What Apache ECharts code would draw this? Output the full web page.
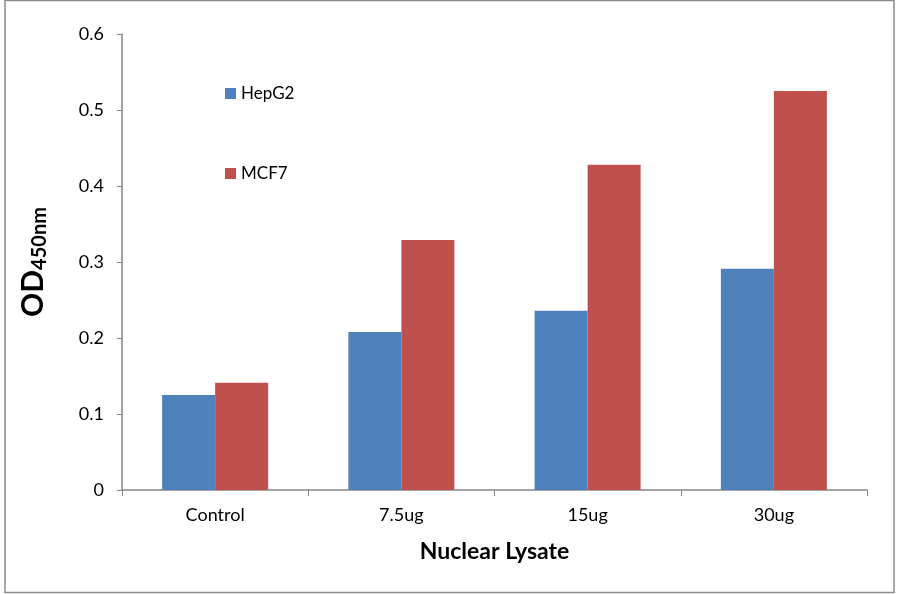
<!DOCTYPE html>
<html>
<head>
<meta charset="utf-8">
<script src="https://cdn.jsdelivr.net/npm/echarts@6/dist/echarts.min.js"></script>
<style>
  html, body { margin: 0; padding: 0; background: #fff; }
  #main { width: 900px; height: 594px; }
</style>
</head>
<body>
<div id="main"></div>
<script>
const categories = ['Control', '7.5ug', '15ug', '30ug'];
const hepg2 = [0.125, 0.208, 0.236, 0.291];
const mcf7 = [0.141, 0.329, 0.428, 0.525];
const yTicks = { min: 0, max: 0.6, interval: 0.1 };

const chart = echarts.init(document.getElementById('main'));
const font = 'Lato, "Open Sans", sans-serif';
const axisColor = '#868686';

chart.setOption({
  backgroundColor: '#fff',
  animation: false,
  textStyle: { fontFamily: font },
  graphic: [{
    type: 'rect',
    shape: { x: 5, y: 0.5, width: 889, height: 592 },
    style: { fill: 'none', stroke: '#8c8c8c', lineWidth: 1.5 }
  }],
  grid: { left: 122, right: 33, top: 34, bottom: 104 },
  legend: {
    orient: 'vertical',
    left: 220,
    top: 80,
    itemGap: 63,
    itemWidth: 11,
    itemHeight: 11,
    icon: 'rect',
    textStyle: { fontSize: 17, color: '#000', fontFamily: font },
    data: ['HepG2', 'MCF7']
  },
  xAxis: {
    type: 'category',
    data: categories,
    axisLine: { lineStyle: { color: axisColor, width: 1.5 } },
    axisTick: { show: true, alignWithLabel: false, length: 6, lineStyle: { color: axisColor } },
    axisLabel: { fontSize: 18, color: '#000', margin: 16 },
    name: 'Nuclear Lysate',
    nameLocation: 'middle',
    nameGap: 50,
    nameTextStyle: { fontSize: 23, fontWeight: 'bold', color: '#000' }
  },
  yAxis: {
    type: 'value',
    min: yTicks.min,
    max: yTicks.max,
    interval: yTicks.interval,
    axisLine: { show: true, lineStyle: { color: axisColor, width: 1.5 } },
    axisTick: { show: true, length: 5, lineStyle: { color: axisColor } },
    splitLine: { show: false },
    axisLabel: {
      fontSize: 18, color: '#000', margin: 18,
      formatter: v => (v === 0 ? '0' : v.toFixed(1))
    },
    name: '{a|OD}{b|450nm}',
    nameLocation: 'middle',
    nameGap: 72,
    nameTextStyle: {
      rich: {
        a: { fontSize: 30, fontWeight: 'bold', color: '#000', fontFamily: font },
        b: { fontSize: 20, fontWeight: 'bold', color: '#000', fontFamily: font, padding: [13, 0, 0, 0] }
      }
    }
  },
  series: [
    {
      name: 'HepG2', type: 'bar', data: hepg2,
      barWidth: 53, barGap: '0%',
      itemStyle: { color: '#4F81BD' }
    },
    {
      name: 'MCF7', type: 'bar', data: mcf7,
      barWidth: 53, barGap: '0%',
      itemStyle: { color: '#C0504D' }
    }
  ]
});
</script>
</body>
</html>
